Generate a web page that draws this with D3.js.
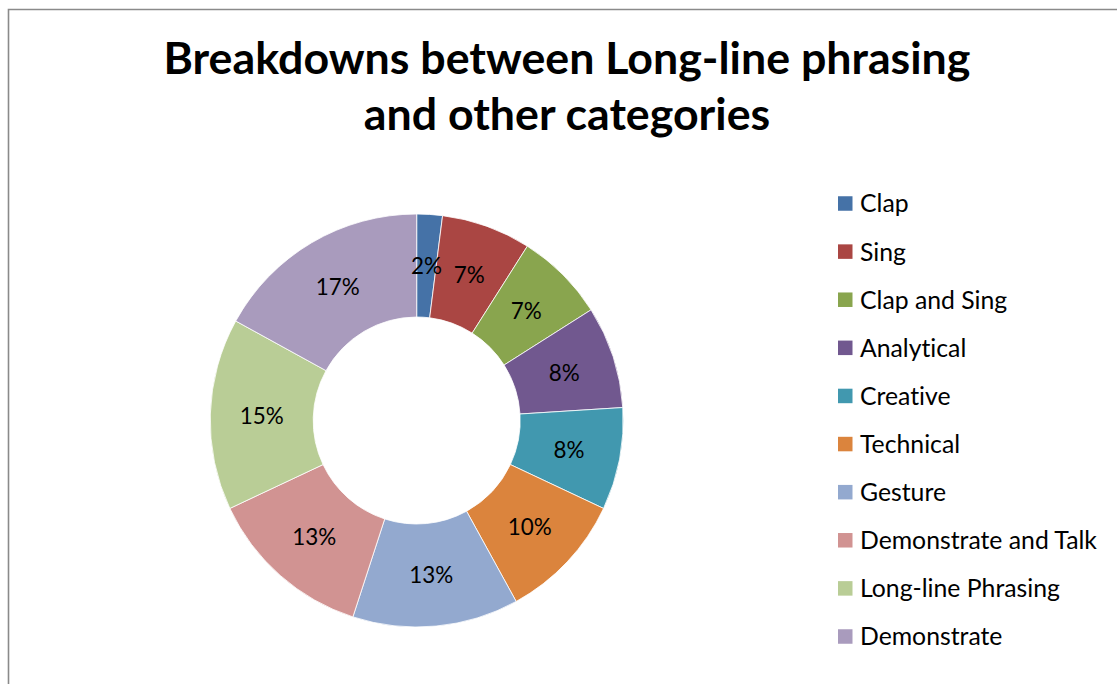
<!DOCTYPE html>
<html lang="en">
<head>
  <meta charset="utf-8">
  <title>Breakdowns between Long-line phrasing</title>
  <script src="https://cdn.jsdelivr.net/npm/d3@7"></script>
  <style>
    body { margin: 0; background: #fff; overflow: hidden; }
    text { font-family: Lato, 'Open Sans', sans-serif; fill: #000; font-variant-ligatures: none; }
  </style>
</head>
<body>
  <div id="chart"></div>
  <script>
    // data
    const categories = ["Clap", "Sing", "Clap and Sing", "Analytical", "Creative",
      "Technical", "Gesture", "Demonstrate and Talk", "Long-line Phrasing", "Demonstrate"];
    const shares = [2, 7, 7, 8, 8, 10, 13, 13, 15, 17];
    const colours = ["#4572A7", "#AA4643", "#89A54E", "#71588F", "#4198AF",
      "#DB843D", "#93A9CF", "#D19392", "#B9CD96", "#A99BBD"];
    const titleLines = ["Breakdowns between Long-line phrasing", "and other categories"];

    const width = 1117, height = 684;
    const svg = d3.select("#chart").append("svg")
      .attr("width", width).attr("height", height);

    // chart frame (runs off right and bottom)
    svg.append("path")
      .attr("d", `M8.5,${height} L8.5,9.5 L${width},9.5`)
      .attr("fill", "none").attr("stroke", "#8a8a8a").attr("stroke-width", 1.6);

    // pick a font size so that a text gets a target width
    function fitSize(str, weight, target) {
      const t = svg.append("text").attr("font-size", 100).attr("font-weight", weight).text(str);
      const w = t.node().getComputedTextLength();
      t.remove();
      return 100 * target / w;
    }

    // title
    const titleSize = fitSize(titleLines[0], "bold", 807);
    svg.append("g").selectAll("text")
      .data(titleLines).enter().append("text")
      .attr("x", 567).attr("y", (d, i) => 74 + i * 56)
      .attr("text-anchor", "middle")
      .attr("font-weight", "bold")
      .attr("font-size", titleSize)
      .text(d => d);

    // donut
    const cx = 416.7, cy = 420.5, outerR = 206.5, innerR = 103.5;
    const data = categories.map((c, i) => ({ name: c, value: shares[i], colour: colours[i] }));
    const pie = d3.pie().value(d => d.value).sort(null);
    const arc = d3.arc().innerRadius(innerR).outerRadius(outerR);
    const labelArc = d3.arc().innerRadius((innerR + outerR) / 2).outerRadius((innerR + outerR) / 2);
    const total = d3.sum(shares);

    const g = svg.append("g").attr("transform", `translate(${cx},${cy})`);
    const arcs = pie(data);
    g.selectAll("path").data(arcs).enter().append("path")
      .attr("d", arc)
      .attr("fill", d => d.data.colour)
      .attr("stroke", "#fff").attr("stroke-width", 0.8);

    const labelSize = fitSize("15%", "normal", 44);
    g.selectAll("text.pct").data(arcs).enter().append("text")
      .attr("class", "pct")
      .attr("transform", d => `translate(${labelArc.centroid(d)})`)
      .attr("text-anchor", "middle")
      .attr("dy", "0.36em")
      .attr("font-size", labelSize)
      .text(d => d3.format(".0%")(d.data.value / total));

    // legend
    const legendSize = fitSize("Demonstrate and Talk", "normal", 237);
    const legendY = d3.scalePoint().domain(categories).range([203.5, 636.5]);
    const legend = svg.append("g").selectAll("g")
      .data(data).enter().append("g")
      .attr("transform", d => `translate(838,${legendY(d.name)})`);
    legend.append("rect")
      .attr("x", 0).attr("y", -7.25).attr("width", 14.5).attr("height", 14.5)
      .attr("fill", d => d.colour);
    legend.append("text")
      .attr("x", 22).attr("dy", "0.36em")
      .attr("font-size", legendSize)
      .text(d => d.name);
  </script>
</body>
</html>
